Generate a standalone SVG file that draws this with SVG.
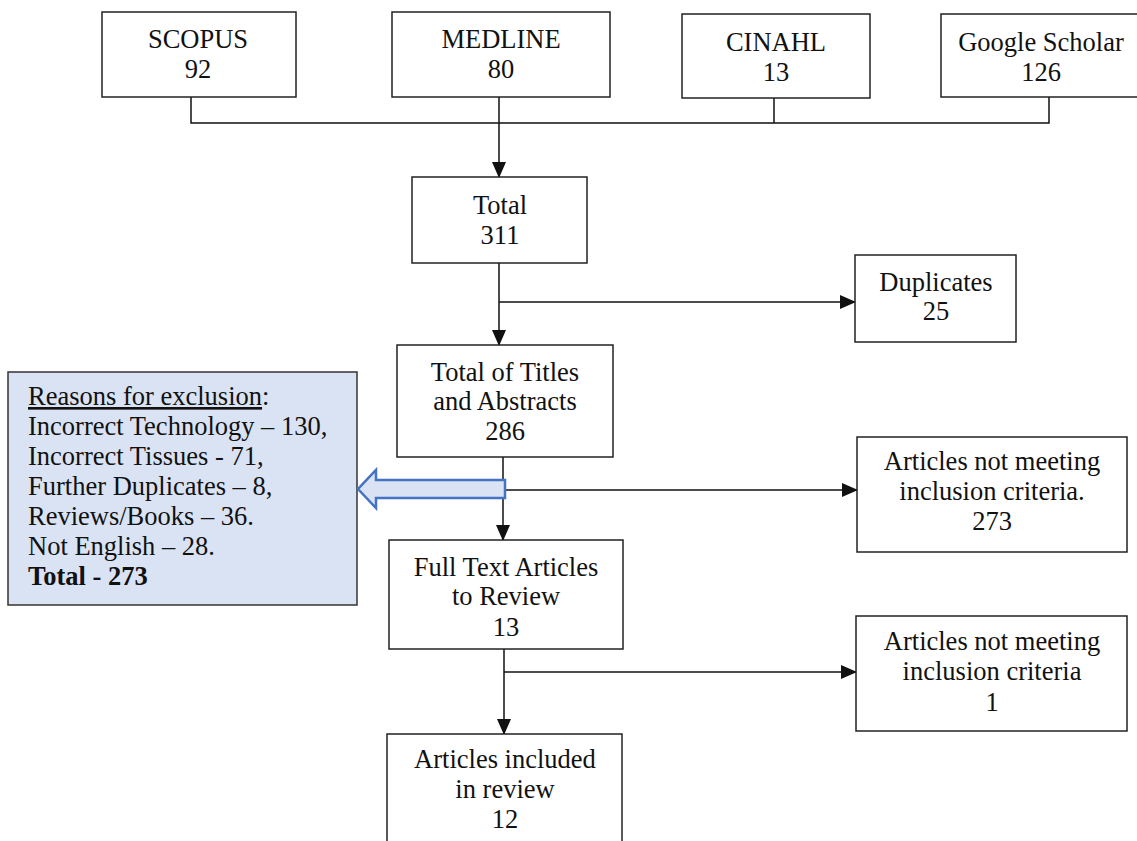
<svg xmlns="http://www.w3.org/2000/svg" width="1137" height="841" viewBox="0 0 1137 841">
<style>
.box{fill:#fff;stroke:#222;stroke-width:1.5}
.t{font-family:"Liberation Serif","Times New Roman",serif;font-size:26.5px;fill:#111;text-anchor:middle}
.l{font-family:"Liberation Serif","Times New Roman",serif;font-size:26.5px;fill:#111}
.c{fill:none;stroke:#111;stroke-width:1.5}
</style>
<defs>
<marker id="ah" markerUnits="userSpaceOnUse" markerWidth="16" markerHeight="16" viewBox="0 0 16 16" refX="15" refY="8" orient="auto">
<path d="M0,1 L16,8 L0,15 Z" fill="#111"/>
</marker>
</defs>
<rect width="1137" height="841" fill="#fff"/>
<g id="connectors">
<polyline class="c" points="191,97 191,123 1049,123 1049,97"/>
<line class="c" x1="774" y1="98" x2="774" y2="123"/>
<line class="c" x1="499" y1="97" x2="499" y2="177" marker-end="url(#ah)"/>
<line class="c" x1="499" y1="263" x2="499" y2="345" marker-end="url(#ah)"/>
<line class="c" x1="499" y1="302" x2="855" y2="302" marker-end="url(#ah)"/>
<line class="c" x1="503" y1="457" x2="503" y2="540" marker-end="url(#ah)"/>
<line class="c" x1="503" y1="490" x2="857" y2="490" marker-end="url(#ah)"/>
<line class="c" x1="504" y1="649" x2="504" y2="734" marker-end="url(#ah)"/>
<line class="c" x1="504" y1="672" x2="856" y2="672" marker-end="url(#ah)"/>
</g>
<g id="scopus"><rect class="box" x="102" y="12" width="194" height="85"/><text class="t" x="198" y="48">SCOPUS</text><text class="t" x="198" y="78">92</text></g>
<g id="medline"><rect class="box" x="392" y="12" width="218" height="85"/><text class="t" x="501" y="48">MEDLINE</text><text class="t" x="501" y="78">80</text></g>
<g id="cinahl"><rect class="box" x="682" y="14" width="188" height="84"/><text class="t" x="776" y="51">CINAHL</text><text class="t" x="776" y="81">13</text></g>
<g id="google"><rect class="box" x="941" y="14" width="200" height="83"/><text class="t" x="1041" y="51">Google Scholar</text><text class="t" x="1041" y="81">126</text></g>
<g id="total"><rect class="box" x="412" y="177" width="175" height="86"/><text class="t" x="500" y="214">Total</text><text class="t" x="500" y="244">311</text></g>
<g id="duplicates"><rect class="box" x="855" y="255" width="161" height="87"/><text class="t" x="936" y="291">Duplicates</text><text class="t" x="936" y="320">25</text></g>
<g id="titles"><rect class="box" x="397" y="345" width="216" height="112"/><text class="t" x="505" y="381">Total of Titles</text><text class="t" x="505" y="410">and Abstracts</text><text class="t" x="505" y="440">286</text></g>
<g id="notmeeting1"><rect class="box" x="857" y="437" width="270" height="115"/><text class="t" x="992" y="470">Articles not meeting</text><text class="t" x="992" y="500">inclusion criteria.</text><text class="t" x="992" y="530">273</text></g>
<g id="reasons"><rect x="8" y="372" width="349" height="233" fill="#dae3f3" stroke="#333" stroke-width="1.5"/>
<text class="l" x="28" y="405"><tspan text-decoration="underline">Reasons for exclusion</tspan>:</text>
<text class="l" x="28" y="435">Incorrect Technology – 130,</text>
<text class="l" x="28" y="465">Incorrect Tissues - 71,</text>
<text class="l" x="28" y="495">Further Duplicates – 8,</text>
<text class="l" x="28" y="525">Reviews/Books – 36.</text>
<text class="l" x="28" y="555">Not English – 28.</text>
<text class="l" x="28" y="585" font-weight="bold">Total - 273</text>
</g>
<g id="bluearrow"><path d="M505,480 L376,480 L376,470 L358,489 L376,508 L376,498 L505,498 Z" fill="#dae3f3" stroke="#4472c4" stroke-width="2.5" stroke-linejoin="miter"/></g>
<g id="fulltext"><rect class="box" x="389" y="540" width="234" height="109"/><text class="t" x="506" y="576">Full Text Articles</text><text class="t" x="506" y="605">to Review</text><text class="t" x="506" y="636">13</text></g>
<g id="notmeeting2"><rect class="box" x="856" y="616" width="271" height="115"/><text class="t" x="992" y="650">Articles not meeting</text><text class="t" x="992" y="680">inclusion criteria</text><text class="t" x="992" y="711">1</text></g>
<g id="included"><rect class="box" x="387" y="734" width="235" height="120"/><text class="t" x="505" y="768">Articles included</text><text class="t" x="505" y="798">in review</text><text class="t" x="505" y="828">12</text></g>
</svg>
